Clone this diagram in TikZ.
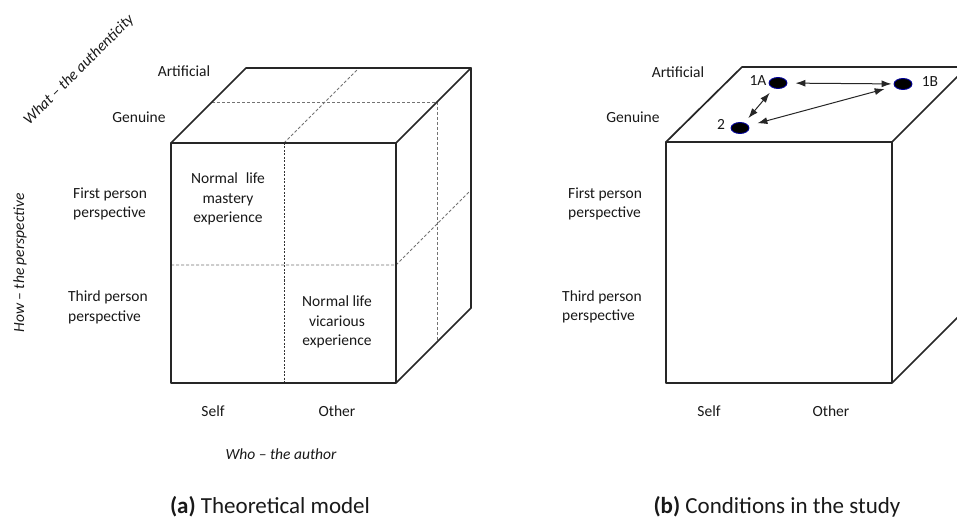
\documentclass[tikz,border=0pt]{standalone}
\usepackage{fontspec}
\setmainfont{Carlito}
\usetikzlibrary{arrows.meta,shapes.geometric}
\begin{document}
\begin{tikzpicture}[x=1pt,y=-1pt,
  edge/.style={line width=1.7pt,draw=black!85,line join=round},
  hid/.style={line width=0.9pt,draw=black!55,dash pattern=on 3pt off 2pt},
  hidfront/.style={line width=1pt,draw=black!80,dash pattern=on 2pt off 1.5pt},
  lbl/.style={font=\fontsize{15.5}{19.5}\selectfont,inner sep=0pt,text=black!90},
  lblL/.style={lbl,align=left,anchor=west},
  cell/.style={lbl,align=center},
  axis/.style={font=\fontsize{15.5}{19.5}\selectfont\itshape,inner sep=0pt,text=black!90},
  captxt/.style={font=\fontsize{23}{27}\selectfont,inner sep=0pt,text=black!90},
  dot/.style={ellipse,fill=black,draw=blue!60!black,line width=0.9pt,minimum width=18pt,minimum height=11pt,inner sep=0pt},
  dbl/.style={arrows={Latex[length=10pt,width=7pt]-Latex[length=10pt,width=7pt]},line width=1pt,draw=black!85}]
\useasboundingbox (0,0) rectangle (957,518);
\clip (0,0) rectangle (957,518);
\fill[white] (0,0) rectangle (957,518);

% ---------- cube (a) ----------
\coordinate (aFTL) at (171,143);
\coordinate (aFTR) at (396,143);
\coordinate (aFBL) at (171,383);
\coordinate (aFBR) at (396,383);
\coordinate (aBTL) at (246,68);
\coordinate (aBTR) at (471,68);
\coordinate (aBBR) at (471,308);
% hidden/division lines
\coordinate (aFM1) at (284,143);
\coordinate (aFM2) at (284,383);
\coordinate (aTM) at (359,68);
\coordinate (aFH1) at (171,265);
\coordinate (aFH2) at (396,265);
\coordinate (aRH) at (471,190);
\coordinate (aTD1) at (212,102);
\coordinate (aTD2) at (437,102);
\coordinate (aRD) at (437,342);
\draw[hidfront] (aFM1) -- (aFM2);
\draw[hid] (aFM1) -- (aTM);
\draw[hid] (aFH1) -- (aFH2) -- (aRH);
\draw[hid] (aTD1) -- (aTD2) -- (aRD);
\draw[edge] (aFTL) -- (aFTR) -- (aFBR) -- (aFBL) -- cycle;
\draw[edge] (aFTL) -- (aBTL) -- (aBTR) -- (aFTR);
\draw[edge] (aBTR) -- (aBBR) -- (aFBR);

\node[lbl] (aArt) at (184,71) {Artificial};
\node[lbl] (aGen) at (139,117) {Genuine};
\node[lblL] (aFirst) at (73,204) {First person\\perspective};
\node[lblL] (aThird) at (68,307.5) {Third person\\perspective};
\node[cell] (aMast) at (228,199) {Normal\hspace{0.5em}life\\mastery\\experience};
\node[cell] (aVic) at (337,322) {Normal life\\vicarious\\experience};
\node[lbl] (aSelf) at (213,411) {Self};
\node[lbl] (aOther) at (337,411) {Other};
\node[axis] (aWho) at (281,454) {Who -- the author};
\node[axis,rotate=45] (aWhat) at (79,70) {What -- the authenticity};
\node[axis,rotate=90] (aHow) at (20,263) {How -- the perspective};
\node[captxt] (aCap) at (270,507) {\textbf{(a)} Theoretical model};

% ---------- cube (b) ----------
\coordinate (bFTL) at (666,142);
\coordinate (bFTR) at (892,142);
\coordinate (bFBL) at (666,383);
\coordinate (bFBR) at (892,383);
\coordinate (bBTL) at (742,67);
\coordinate (bBTR) at (967,67);
\coordinate (bBBR) at (967,308);
\draw[edge] (bFTL) -- (bFTR) -- (bFBR) -- (bFBL) -- cycle;
\draw[edge] (bFTL) -- (bBTL) -- (bBTR) -- (bFTR);
\draw[edge] (bBTR) -- (bBBR) -- (bFBR);

\node[lbl] (bArt) at (678,72) {Artificial};
\node[lbl] (bGen) at (633,117) {Genuine};
\node[lblL] (bFirst) at (568,204) {First person\\perspective};
\node[lblL] (bThird) at (562,307) {Third person\\perspective};
\node[lbl] (bSelf) at (709,411) {Self};
\node[lbl] (bOther) at (831,411) {Other};
\node[captxt] (bCap) at (777,507) {\textbf{(b)} Conditions in the study};

\node[dot] (d1A) at (778,83) {};
\node[dot] (d1B) at (903,84) {};
\node[dot] (d2) at (740,128) {};
\node[lbl] (l1A) at (758,81) {1A};
\node[lbl] (l1B) at (930,82) {1B};
\node[lbl] (l2) at (721,124) {2};
\draw[dbl,shorten <=8pt,shorten >=2pt] (d1A) -- (d1B);
\draw[dbl,shorten <=6pt,shorten >=6pt] (d1A) -- (d2);
\draw[dbl,shorten <=9pt,shorten >=10pt] (d2) -- (d1B);
\end{tikzpicture}
\end{document}
